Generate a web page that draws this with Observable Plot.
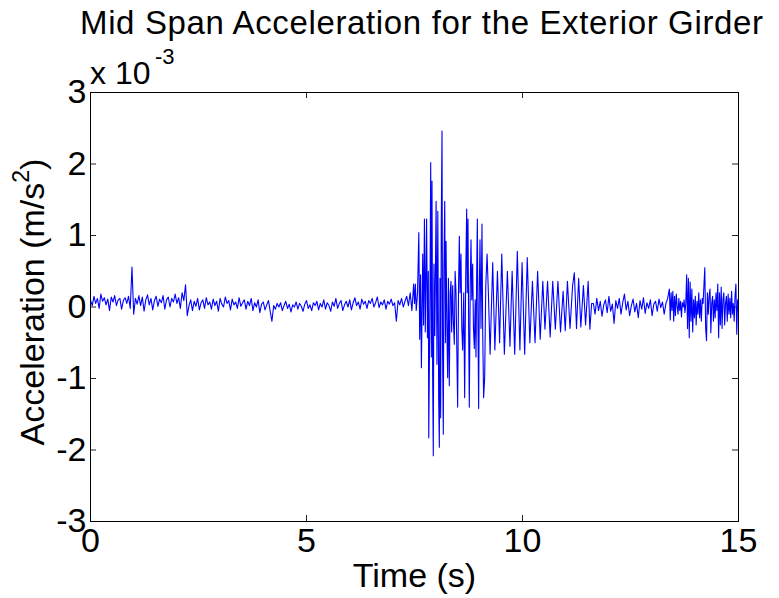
<!DOCTYPE html>
<html>
<head>
<meta charset="utf-8">
<script src="https://cdn.jsdelivr.net/npm/d3@7"></script>
<script src="https://cdn.jsdelivr.net/npm/@observablehq/plot@0.6"></script>
<style>
  html, body { margin: 0; padding: 0; background: white; }
  svg text { font-family: "Liberation Sans", Arial, Helvetica, sans-serif; }
</style>
</head>
<body>
<script>
// Values in units of 1e-3 m/s^2 (axis shows "x 10^-3")
const xTicks = [0, 5, 10, 15];
const yTicks = [-3, -2, -1, 0, 1, 2, 3];

// Quiet segment before the event: starts at 0 s, sample step 0.04 s
const quietAStart = 0, quietAStep = 0.04;
const quietA = [
  0.10, 0.02, 0.15, 0.05, 0.12, -0.02, 0.18, 0.08, 0.13, 0.03,
  0.11, -0.05, 0.14, 0.07, 0.16, 0.02, 0.10, 0.12, -0.03, 0.09,
  0.13, 0.05, 0.15, -0.02, 0.56, -0.10, 0.12, 0.04, 0.16, 0.02,
  0.14, -0.06, 0.10, 0.17, 0.03, 0.12, -0.04, 0.09, 0.15, 0.01,
  0.11, 0.06, 0.16, -0.03, 0.10, 0.14, 0.00, 0.12, 0.07, 0.18,
  0.05, 0.13, -0.02, 0.20, 0.09, 0.31, -0.12, 0.02, 0.10, -0.05,
  0.08, 0.01, 0.12, -0.04, 0.06, 0.10, -0.02, 0.13, 0.03, 0.07,
  -0.03, 0.11, 0.02, 0.08, -0.06, 0.12, 0.04, 0.00, 0.14, 0.05,
  0.09, -0.04, 0.11, 0.03, 0.07, -0.02, 0.13, 0.01, 0.06, 0.10,
  -0.03, 0.08, 0.02, 0.12, -0.05, 0.06, 0.00, 0.10, -0.08, 0.04,
  0.07, -0.04, 0.03, 0.09, -0.06, -0.20, 0.02, -0.03, 0.05, 0.00,
  0.06, -0.05, 0.02, 0.08, -0.02, 0.04, -0.07, 0.03, 0.00, 0.07,
  -0.03, 0.05, 0.01, -0.06, 0.04, 0.09, -0.02, 0.03, -0.05, 0.06,
  0.02, 0.08, -0.04, 0.05, 0.00, 0.10, -0.03, 0.06, 0.02, -0.06,
  0.07, 0.01, 0.12, -0.02, 0.05, 0.09, -0.05, 0.03, 0.08, 0.00,
  0.10, -0.04, 0.06, 0.13, 0.02, 0.07, -0.03, 0.11, 0.04, 0.08,
  -0.02, 0.09, 0.05, 0.12, 0.00, 0.06, 0.14, -0.01, 0.07, 0.03,
  0.10, -0.03, 0.08, 0.04, 0.11, 0.02, 0.06, -0.20, 0.09, 0.03,
  0.12, 0.00, 0.08, 0.15, 0.02, 0.20, -0.05, 0.32
];

// Event (vehicle passage): peaks and troughs
const eventT = [
  7.50, 7.52, 7.54, 7.57, 7.60, 7.62, 7.64, 7.66, 7.69, 7.71,
  7.73, 7.75, 7.78, 7.80, 7.82, 7.83, 7.86, 7.875, 7.89, 7.905,
  7.92, 7.935, 7.95, 7.97, 8.00, 8.02, 8.04, 8.06, 8.075, 8.09,
  8.106, 8.12, 8.137, 8.15, 8.167, 8.18, 8.20, 8.215, 8.23, 8.25,
  8.268, 8.285, 8.306, 8.325, 8.345, 8.36, 8.384, 8.40, 8.422, 8.44,
  8.461, 8.48, 8.499, 8.52, 8.538, 8.555, 8.576, 8.595, 8.615, 8.64,
  8.661, 8.685, 8.708, 8.72, 8.738, 8.755, 8.769, 8.79, 8.808, 8.826,
  8.846, 8.865, 8.885, 8.905, 8.924, 8.94, 8.955, 8.97, 8.985, 9.00,
  9.016, 9.04, 9.062, 9.08, 9.10, 9.124, 9.15, 9.18, 9.21, 9.25,
  9.31, 9.36, 9.42, 9.47, 9.52, 9.58, 9.65, 9.71, 9.76, 9.82,
  9.88, 9.94, 9.99, 10.05, 10.11, 10.17, 10.23, 10.29, 10.35, 10.41,
  10.47, 10.52, 10.58, 10.64, 10.70, 10.76, 10.82, 10.88, 10.94, 10.99,
  11.04, 11.10, 11.16, 11.20, 11.25, 11.30, 11.35, 11.41, 11.46, 11.52,
  11.56, 11.60
];
const eventV = [
  0.05, 0.32, -0.05, 0.20, 1.04, -0.45, 0.45, -0.85, 0.74, -0.25,
  1.23, -0.35, 1.23, -0.43, 0.50, -1.83, 0.30, 2.02, -0.70, 1.76,
  -0.95, -2.08, 0.60, -0.40, 1.48, -0.80, 1.34, -1.30, -1.96, 0.40,
  -1.55, 1.20, 2.46, -0.60, -1.78, 0.50, 1.48, -0.50, 0.92, -0.30,
  -0.99, 0.40, -1.10, 0.20, 0.36, -0.35, 0.30, -0.20, -0.52, 0.50,
  0.20, -0.60, -1.40, 0.30, 0.99, 0.20, 0.74, -0.30, -0.60, 0.20,
  -1.27, 0.40, 1.37, 0.20, 1.23, -0.40, -1.40, 0.30, 0.94, 0.10,
  0.60, -0.30, -0.58, 0.10, -0.70, 0.50, 1.23, -0.30, -1.42, 0.20,
  0.94, -0.30, 1.16, -0.40, -1.27, -0.99, 0.30, 0.74, 0.20, -0.66,
  0.62, -0.60, 0.50, -0.50, 0.74, -0.66, 0.50, -0.55, 0.50, -0.66,
  0.78, -0.60, 0.62, -0.66, 0.69, -0.50, 0.36, -0.50, 0.50, -0.45,
  0.36, -0.31, 0.36, -0.42, 0.36, -0.31, 0.36, -0.35, 0.22, -0.33,
  0.36, -0.30, 0.30, 0.48, -0.30, 0.40, -0.28, 0.30, -0.25, 0.36,
  -0.31, 0.05
];

// Quiet segment after the event: starts at 11.64 s, step 0.04 s
const quietBStart = 11.64, quietBStep = 0.04;
const quietB = [
  0.05, -0.10, 0.12, -0.05, 0.08, -0.13, 0.03, 0.10, -0.08, 0.15,
  -0.06, 0.04, -0.23, 0.09, -0.02, 0.12, -0.10, 0.06, 0.18, -0.04,
  0.08, -0.12, 0.02, 0.11, -0.07, 0.05, -0.15, 0.09, -0.03, 0.13,
  -0.09, 0.06, -0.02, 0.10, -0.12, 0.04, 0.08, -0.06, 0.11, -0.01,
  0.07, -0.10, 0.05, 0.12
];

// Late activity: starts at 13.40 s, step 0.02 s
const tailStart = 13.40, tailStep = 0.02;
const tail = [
  0.25, -0.18, 0.20, -0.05, 0.22, -0.20, 0.15, -0.12, 0.18, 0.02,
  -0.10, 0.12, -0.05, 0.08, -0.14, 0.06, 0.00, 0.10, -0.08, 0.05,
  0.45, -0.30, 0.40, -0.43, 0.35, -0.20, 0.25, -0.35, 0.10, -0.15,
  0.15, -0.25, 0.08, -0.10, 0.20, -0.15, 0.10, -0.20, 0.12, 0.05,
  0.30, 0.55, -0.30, -0.47, 0.20, -0.10, 0.15, 0.25, -0.36, 0.05,
  0.15, -0.20, 0.10, -0.15, 0.20, -0.05, 0.32, -0.43, 0.20, -0.25,
  0.28, -0.30, 0.10, 0.20, -0.25, 0.05, 0.15, -0.20, 0.18, -0.10,
  0.12, -0.15, 0.22, -0.10, 0.05, -0.20, 0.15, 0.32, -0.38, 0.10,
  -0.05
];

// Build the table for the line mark
const rows = [];
quietA.forEach((v, i) => rows.push({t: quietAStart + i * quietAStep, v}));
eventT.forEach((t, i) => rows.push({t, v: eventV[i]}));
quietB.forEach((v, i) => rows.push({t: quietBStart + i * quietBStep, v}));
tail.forEach((v, i) => rows.push({t: tailStart + i * tailStep, v}));

const W = 779, H = 598;
const mL = 90, mR = 41, mT = 92, mB = 77;
const pw = W - mL - mR, ph = H - mT - mB;
const tk = 6;
const fmt = d => String(d);

const svg = Plot.plot({
  width: W, height: H,
  marginLeft: mL, marginRight: mR, marginTop: mT, marginBottom: mB,
  style: {fontFamily: '"Liberation Sans", Arial, sans-serif', fontSize: "34px", background: "white", color: "black", overflow: "visible"},
  x: {domain: [0, 15]},
  y: {domain: [-3, 3]},
  marks: [
    Plot.ruleX(xTicks, {insetTop: ph - tk, stroke: "#222"}),
    Plot.ruleX(xTicks, {insetBottom: ph - tk, stroke: "#222"}),
    Plot.ruleY(yTicks, {insetRight: pw - tk, stroke: "#222"}),
    Plot.ruleY(yTicks, {insetLeft: pw - tk, stroke: "#222"}),
    Plot.line(rows, {x: "t", y: "v", stroke: "#0000ff", strokeWidth: 1.1}),
    Plot.frame({stroke: "black"}),
    Plot.axisX(xTicks, {tickSize: 0, tickPadding: 6, label: null, tickFormat: fmt, fontSize: 34}),
    Plot.axisY(yTicks, {tickSize: 0, tickPadding: 4, label: null, tickFormat: fmt, fontSize: 34}),
    Plot.text(["Time (s)"], {frameAnchor: "bottom", dy: 65, fontSize: 34, fill: "black"})
  ]
});
document.body.appendChild(svg);

const s = d3.select(svg);
// Title
s.append("text")
  .attr("x", 80).attr("y", 34)
  .attr("text-anchor", "start")
  .attr("font-size", 33)
  .attr("textLength", 683).attr("lengthAdjust", "spacing")
  .attr("fill", "black")
  .text("Mid Span Acceleration for the Exterior Girder");
// Exponent label
s.append("text").attr("x", 90).attr("y", 84).attr("text-anchor", "start")
  .attr("font-size", 32).attr("fill", "black").text("x 10");
s.append("text").attr("x", 155).attr("y", 64).attr("text-anchor", "start")
  .attr("font-size", 22).attr("fill", "black").text("-3");
// Y label with superscript
const yl = s.append("text")
  .attr("transform", "translate(44,302) rotate(-90)")
  .attr("text-anchor", "middle")
  .attr("font-size", 34).attr("fill", "black");
yl.append("tspan").text("Acceleration (m/s");
yl.append("tspan").attr("font-size", 23).attr("dy", -15).text("2");
yl.append("tspan").attr("dy", 15).text(")");
</script>
</body>
</html>
